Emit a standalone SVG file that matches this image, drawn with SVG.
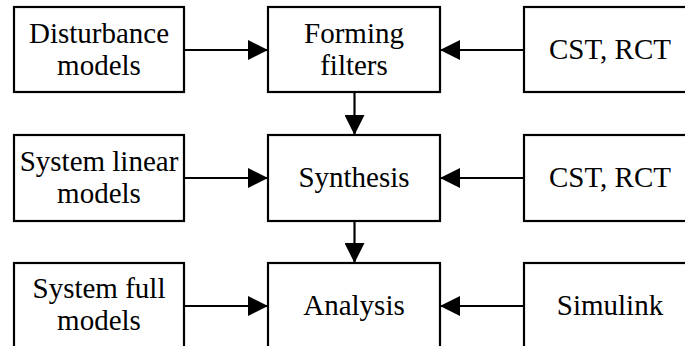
<svg xmlns="http://www.w3.org/2000/svg" width="685" height="346" viewBox="0 0 685 346">
<defs>
<style>
.box{fill:#fff;stroke:#000;stroke-width:2.2}
.t{font-size:29px;fill:#000;text-anchor:middle}
.c{stroke:#000;stroke-width:2.2;fill:none}
</style>
<marker id="ah" markerWidth="20" markerHeight="20" refX="20" refY="10" orient="auto" markerUnits="userSpaceOnUse">
<path d="M0,0 L20,10 L0,20 Z" fill="#000"/>
</marker>
</defs>
<rect width="685" height="346" fill="#fff"/>
<g id="connectors">
<line class="c" x1="184" y1="50" x2="268" y2="50" marker-end="url(#ah)"/>
<line class="c" x1="524" y1="50" x2="440" y2="50" marker-end="url(#ah)"/>
<line class="c" x1="354.5" y1="92" x2="354.5" y2="135" marker-end="url(#ah)"/>
<line class="c" x1="184" y1="178" x2="268" y2="178" marker-end="url(#ah)"/>
<line class="c" x1="524" y1="178" x2="440" y2="178" marker-end="url(#ah)"/>
<line class="c" x1="354.5" y1="221" x2="354.5" y2="263" marker-end="url(#ah)"/>
<line class="c" x1="184" y1="306" x2="268" y2="306" marker-end="url(#ah)"/>
<line class="c" x1="524" y1="306" x2="440" y2="306" marker-end="url(#ah)"/>
</g>
<g id="disturbance">
<rect class="box" x="14" y="7" width="170" height="85"/>
<text class="t" font-family="Liberation Serif" x="99" y="43">Disturbance</text>
<text class="t" font-family="Liberation Serif" x="99" y="75">models</text>
</g>
<g id="forming">
<rect class="box" x="268" y="7" width="172" height="85"/>
<text class="t" font-family="Liberation Serif" x="354" y="43">Forming</text>
<text class="t" font-family="Liberation Serif" x="354" y="75">filters</text>
</g>
<g id="cst1">
<rect class="box" x="524" y="7" width="172" height="85"/>
<text class="t" font-family="Liberation Serif" x="610" y="59">CST, RCT</text>
</g>
<g id="linear">
<rect class="box" x="14" y="135" width="170" height="86"/>
<text class="t" font-family="Liberation Serif" x="99" y="171">System linear</text>
<text class="t" font-family="Liberation Serif" x="99" y="203">models</text>
</g>
<g id="synthesis">
<rect class="box" x="268" y="135" width="172" height="86"/>
<text class="t" font-family="Liberation Serif" x="354" y="187">Synthesis</text>
</g>
<g id="cst2">
<rect class="box" x="524" y="135" width="172" height="86"/>
<text class="t" font-family="Liberation Serif" x="610" y="187">CST, RCT</text>
</g>
<g id="full">
<rect class="box" x="14" y="263" width="170" height="86"/>
<text class="t" font-family="Liberation Serif" x="99" y="298">System full</text>
<text class="t" font-family="Liberation Serif" x="99" y="330">models</text>
</g>
<g id="analysis">
<rect class="box" x="268" y="263" width="172" height="86"/>
<text class="t" font-family="Liberation Serif" x="354" y="315">Analysis</text>
</g>
<g id="simulink">
<rect class="box" x="524" y="263" width="172" height="86"/>
<text class="t" font-family="Liberation Serif" x="610" y="315">Simulink</text>
</g>
</svg>
